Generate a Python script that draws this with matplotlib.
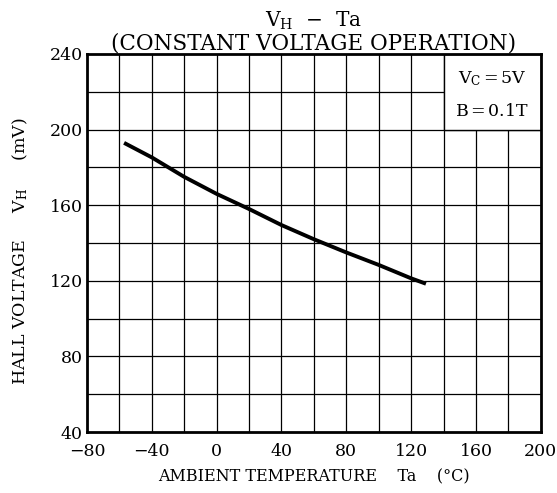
import matplotlib
matplotlib.use("Agg")
import matplotlib.pyplot as plt
from matplotlib.patches import Rectangle

# curve (Ta in degC, VH in mV)
temp = [-56, -40, -20, 0, 20, 40, 60, 80, 100, 120, 128]
hallV = [192.5, 185.3, 175.0, 166.0, 158.0, 149.5, 142.0, 135.0, 128.4, 121.3, 118.8]

xTicks = [-80, -40, 0, 40, 80, 120, 160, 200]
yTicks = [40, 80, 120, 160, 200, 240]
xTickLabels = ["\u221280", "\u221240", "0", "40", "80", "120", "160", "200"]

plt.rcParams['font.family'] = ['DejaVu Serif']
plt.rcParams['mathtext.fontset'] = 'dejavuserif'

fig = plt.figure(figsize=(5.57, 4.93), dpi=100)
ax = fig.add_axes([0.156, 0.1237, 0.815, 0.7668])

ax.set_xlim(-80, 200)
ax.set_ylim(40, 240)

# grid every 20 units
for gx in range(-60, 200, 20):
    ax.axvline(gx, color='black', lw=0.9, zorder=1)
for gy in range(60, 240, 20):
    ax.axhline(gy, color='black', lw=0.9, zorder=1)

# condition box in top right corner hides the grid there
ax.add_patch(Rectangle((140, 200), 60, 40, facecolor='white',
                       edgecolor='black', lw=1.0, zorder=2))
ax.text(170, 227, r"V$_\mathrm{C}$$\,$=$\,$5V", ha='center', va='center',
        fontsize=12.5, zorder=3)
ax.text(170, 209.5, r"B$\,$=$\,$0.1T", ha='center', va='center',
        fontsize=12.5, zorder=3)

ax.plot(temp, hallV, color='black', lw=2.8, zorder=4)

ax.set_xticks(xTicks)
ax.set_xticklabels(xTickLabels)
ax.set_yticks(yTicks)
ax.tick_params(length=0, labelsize=12.5)
ax.tick_params(axis='x', pad=8)
ax.tick_params(axis='y', pad=3)
for s in ax.spines.values():
    s.set_linewidth(2.0)
    s.set_zorder(5)

ax.set_xlabel("AMBIENT TEMPERATURE    Ta    (\u00b0C)", fontsize=11.5, labelpad=6)
ax.set_ylabel(r"HALL VOLTAGE     V$_\mathrm{H}$     (mV)", fontsize=12.5)
ax.yaxis.set_label_coords(-0.126, 0.478)

fig.text(0.563, 0.958, r"V$_\mathrm{H}$  $-$  Ta", ha='center', va='center', fontsize=14.5)
fig.text(0.563, 0.912, "(CONSTANT VOLTAGE OPERATION)", ha='center', va='center', fontsize=15.5)

fig.savefig("out.png", dpi=100)
